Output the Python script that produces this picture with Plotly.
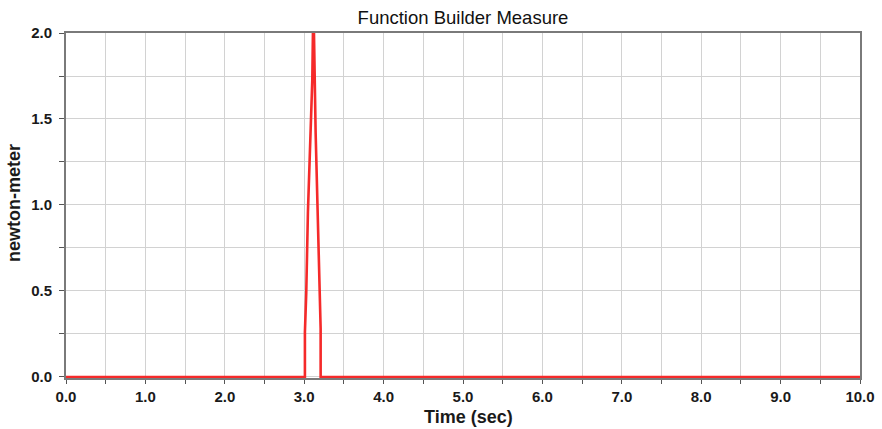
import plotly.graph_objects as go

time_s = [0.0, 3.009, 3.009, 3.026, 3.047, 3.068, 3.085, 3.102, 3.110, 3.123,
          3.144, 3.157, 3.173, 3.190, 3.207, 3.207, 10.0]
torque = [0.0, 0.0, 0.26, 0.49, 0.96, 1.25, 1.50, 1.73, 2.0, 2.0,
          1.42, 1.15, 0.86, 0.53, 0.28, 0.0, 0.0]

x_ticks = [0, 1, 2, 3, 4, 5, 6, 7, 8, 9, 10]
x_labels = ["0.0", "1.0", "2.0", "3.0", "4.0", "5.0", "6.0", "7.0", "8.0", "9.0", "10.0"]
y_ticks = [0, 0.5, 1.0, 1.5, 2.0]
y_labels = ["0.0", "0.5", "1.0", "1.5", "2.0"]

W, H = 882, 429

fig = go.Figure()
fig.add_trace(go.Scatter(x=time_s, y=torque, mode="lines",
                         line=dict(color="#f52a2a", width=2.6),
                         cliponaxis=False, showlegend=False))

font_fam = "Liberation Sans, Arial, sans-serif"
fig.update_layout(
    width=W, height=H,
    margin=dict(l=66, r=22, t=33, b=51, autoexpand=False),
    paper_bgcolor="white", plot_bgcolor="white",
    title=dict(text="Function Builder Measure", x=463 / W, xanchor="center",
               y=1 - 17.5 / H, yanchor="middle",
               font=dict(family=font_fam, size=18.5, color="#111111")),
    font=dict(family=font_fam, color="#1a1a1a"),
    annotations=[
        dict(text="<b>Time (sec)</b>", xref="paper", yref="paper",
             x=(468 - 66) / 794, y=-(417 - 378) / 345, xanchor="center", yanchor="middle",
             showarrow=False, font=dict(size=18, family=font_fam, color="#1a1a1a")),
        dict(text="<b>newton-meter</b>", xref="paper", yref="paper",
             x=-(66 - 14) / 794, y=(378 - 203) / 345, xanchor="center", yanchor="middle",
             textangle=-90, showarrow=False,
             font=dict(size=18, family=font_fam, color="#1a1a1a")),
    ],
)
fig.update_xaxes(
    range=[0, 10], tickvals=x_ticks, ticktext=x_labels,
    tickfont=dict(size=15, family=font_fam, weight="bold"),
    ticks="outside", ticklen=4, tickcolor="#555555", tickwidth=1,
    showgrid=True, gridcolor="#d2d2d2", gridwidth=1.2,
    minor=dict(dtick=0.5, tick0=0, showgrid=True, gridcolor="#d2d2d2", gridwidth=1.2,
               ticks="outside", ticklen=4, tickcolor="#555555"),
    showline=True, linecolor="#7a7a7a", linewidth=2, mirror=True,
    zeroline=False, automargin=False, layer="below traces",
)
fig.update_yaxes(
    range=[-0.006, 2], tickvals=y_ticks, ticktext=y_labels,
    tickfont=dict(size=15, family=font_fam, weight="bold"),
    ticks="outside", ticklen=5, tickcolor="#555555", tickwidth=1,
    ticklabelstandoff=4,
    showgrid=True, gridcolor="#d2d2d2", gridwidth=1.2,
    minor=dict(dtick=0.25, tick0=0, showgrid=True, gridcolor="#d2d2d2", gridwidth=1.2,
               ticks="outside", ticklen=5, tickcolor="#555555"),
    showline=True, linecolor="#7a7a7a", linewidth=2, mirror=True,
    zeroline=False, automargin=False, layer="below traces",
)
fig.write_html("out.html", config={"displayModeBar": False},
               post_script="document.body.style.margin='0';document.body.style.overflow='hidden';")
